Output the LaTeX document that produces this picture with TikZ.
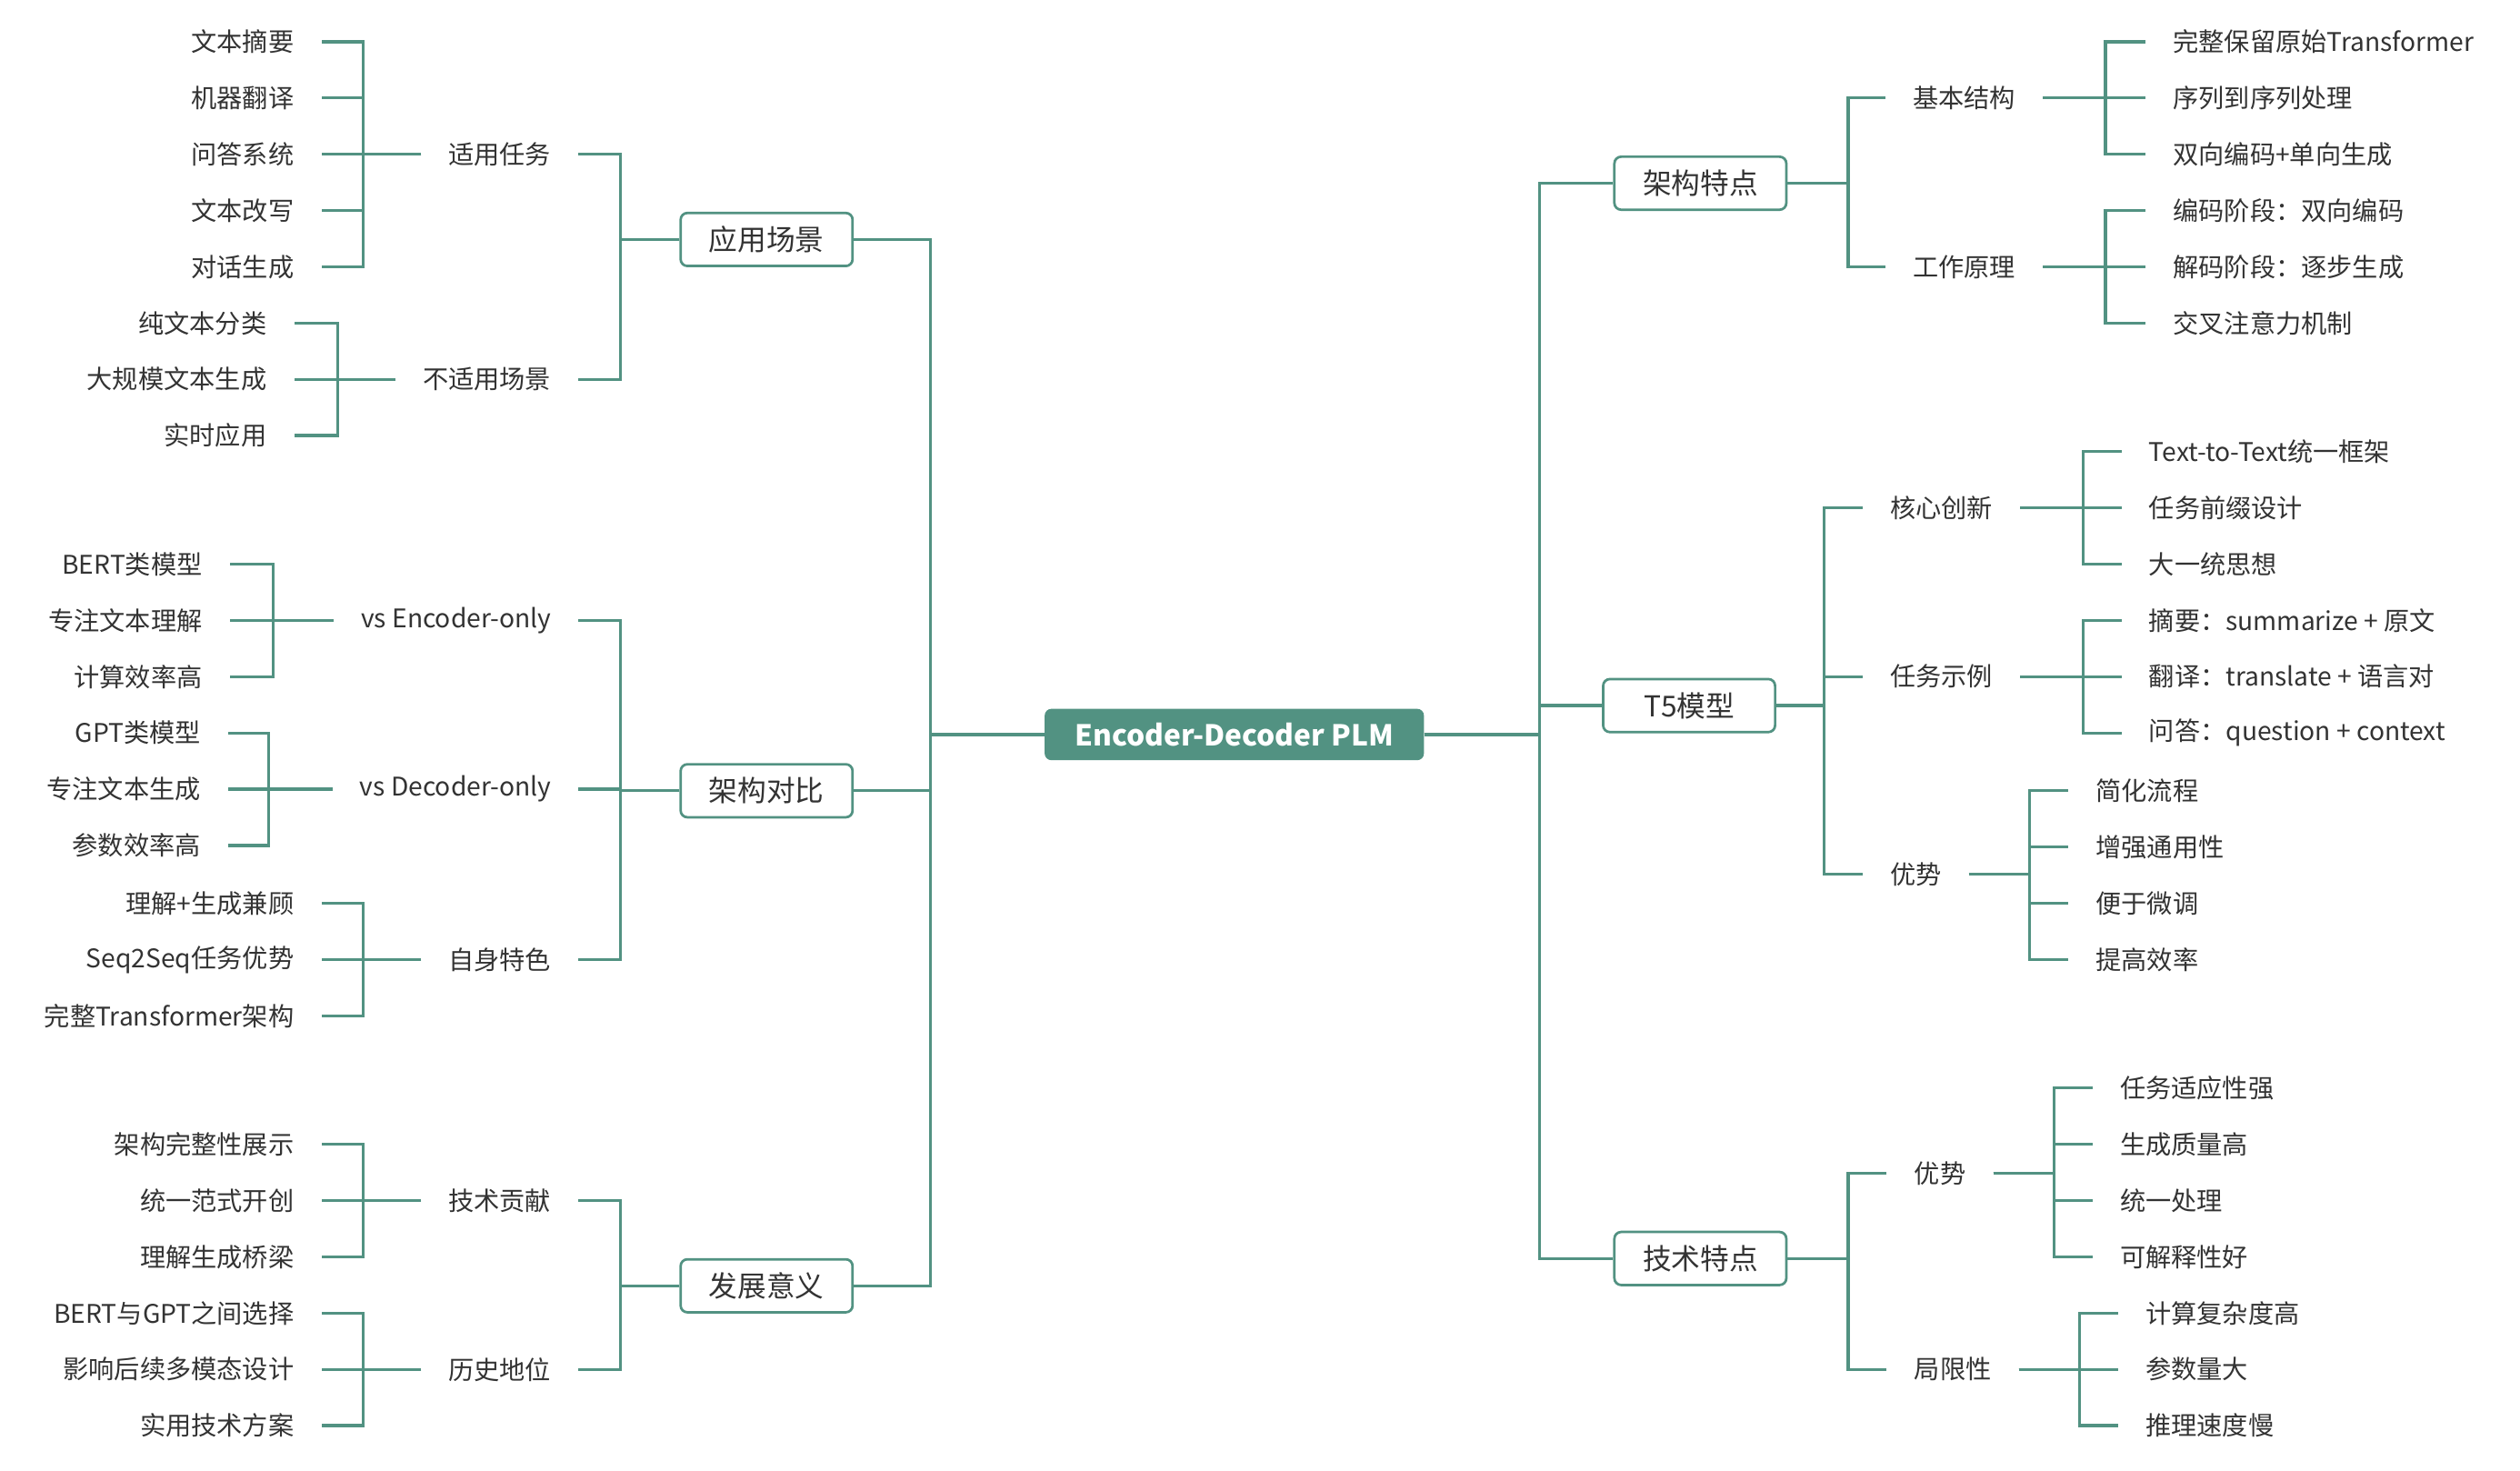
\documentclass[tikz,border=0pt]{standalone}
\usepackage{fontspec}
\setmainfont{Noto Sans CJK SC}
\definecolor{teal1}{RGB}{82,146,130}
\definecolor{txt}{RGB}{51,51,51}
\tikzset{
 conn/.style={draw=teal1,line width=2.6pt},
 leaf/.style={inner xsep=0.85cm,inner ysep=0pt,text=txt,font=\fontsize{22.7}{27}\selectfont},
 lvl/.style={draw=teal1,line width=2.2pt,fill=white,rounded corners=6pt,minimum width=5.35cm,minimum height=1.65cm,text=txt,font=\fontsize{25.5}{30}\selectfont},
 rootn/.style={fill=teal1,rounded corners=6pt,minimum width=11.8cm,minimum height=1.6cm,text=white,font=\fontsize{25.5}{30}\selectfont\bfseries}
}
\newcommand\grpL[4]{%
 \coordinate (#1-b) at (#2,0);
 \foreach \t/\y in {#4}{\node[leaf,anchor=east] (#1-\y) at (#3,\y) {\t};
 \draw[conn] (#1.west) -- (#1.west -| #1-b) |- (#1-\y.east);}}
\newcommand\grpR[4]{%
 \coordinate (#1-b) at (#2,0);
 \foreach \t/\y in {#4}{\node[leaf,anchor=west] (#1-\y) at (#3,\y) {\t};
 \draw[conn] (#1.east) -- (#1.east -| #1-b) |- (#1-\y.west);}}
\begin{document}
\begin{tikzpicture}[x=0.05cm,y=-0.05cm]
\fill[white] (0,0) rectangle (1568,915);
\useasboundingbox (0,0) rectangle (1568,915);
\node[rootn] (root) at (768,457) {Encoder-Decoder PLM};
\node[lvl] (A) at (477,149) {应用场景};
\node[lvl] (B) at (477,492) {架构对比};
\node[lvl] (C) at (477,800) {发展意义};
\node[lvl] (D) at (1058,114) {架构特点};
\node[lvl] (E) at (1051,439) {T5模型};
\node[lvl] (F) at (1058,783) {技术特点};
\coordinate (rl) at (579,0);
\coordinate (rr) at (958,0);
\foreach \n in {A,B,C}{\draw[conn] (root.west) -- (root.west -| rl) |- (\n.east);}
\foreach \n in {D,E,F}{\draw[conn] (root.east) -- (root.east -| rr) |- (\n.west);}
% left level 2
\grpL{A}{386}{360}{适用任务/96,不适用场景/236}
\grpL{B}{386}{360}{vs Encoder-only/386,vs Decoder-only/491,自身特色/597}
\grpL{C}{386}{360}{技术贡献/747,历史地位/852}
% left leaves
\grpL{A-96}{226}{200}{文本摘要/26,机器翻译/61,问答系统/96,文本改写/131,对话生成/166}
\grpL{A-236}{210}{183}{纯文本分类/201,大规模文本生成/236,实时应用/271}
\grpL{B-386}{170}{143}{BERT类模型/351,专注文本理解/386,计算效率高/421}
\grpL{B-491}{167}{142}{GPT类模型/456,专注文本生成/491,参数效率高/526}
\grpL{B-597}{226}{200}{理解+生成兼顾/562,Seq2Seq任务优势/597,完整Transformer架构/632}
\grpL{C-747}{226}{200}{架构完整性展示/712,统一范式开创/747,理解生成桥梁/782}
\grpL{C-852}{226}{200}{BERT与GPT之间选择/817,影响后续多模态设计/852,实用技术方案/887}
% right level 2
\grpR{D}{1150}{1173}{基本结构/61,工作原理/166}
\grpR{E}{1135}{1159}{核心创新/316,任务示例/421,优势/544}
\grpR{F}{1150}{1174}{优势/730,局限性/852}
% right leaves
\grpR{D-61}{1310}{1335}{完整保留原始Transformer/26,序列到序列处理/61,双向编码+单向生成/96}
\grpR{D-166}{1310}{1335}{编码阶段：双向编码/131,解码阶段：逐步生成/166,交叉注意力机制/201}
\grpR{E-316}{1296}{1320}{Text-to-Text统一框架/281,任务前缀设计/316,大一统思想/351}
\grpR{E-421}{1296}{1320}{摘要：summarize + 原文/386,翻译：translate + 语言对/421,问答：question + context/456}
\grpR{E-544}{1263}{1287}{简化流程/492,增强通用性/527,便于微调/562,提高效率/597}
\grpR{F-730}{1278}{1302}{任务适应性强/677,生成质量高/712,统一处理/747,可解释性好/782}
\grpR{F-852}{1294}{1318}{计算复杂度高/817,参数量大/852,推理速度慢/887}
\end{tikzpicture}
\end{document}
